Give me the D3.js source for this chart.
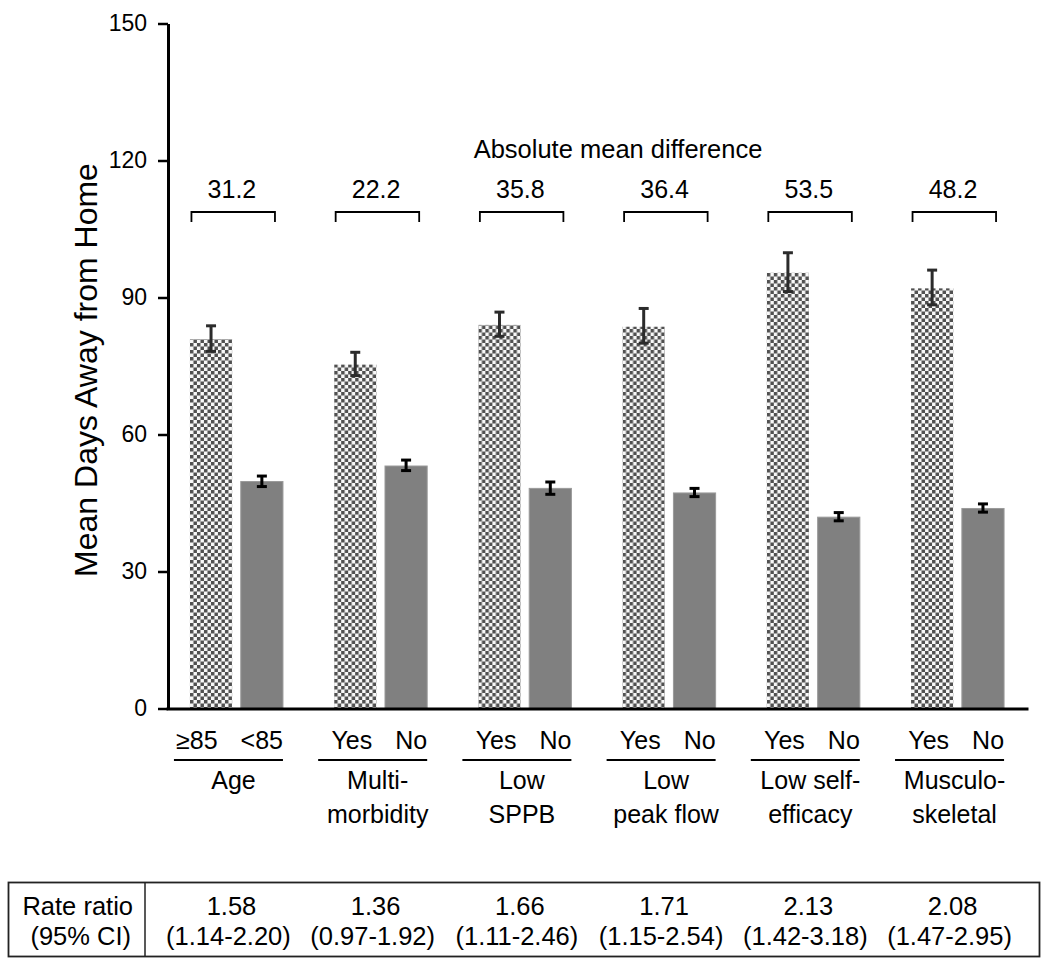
<!DOCTYPE html>
<html>
<head>
<meta charset="utf-8">
<script src="https://cdn.jsdelivr.net/npm/d3@7"></script>
<style>
  html, body { margin: 0; padding: 0; background: #fff; }
  svg { display: block; }
  text { font-family: "Liberation Sans", Arial, Helvetica, sans-serif; fill: #000; }
</style>
</head>
<body>
<svg id="chart" width="1050" height="966"></svg>
<script>
// ---- Data ----
const categories = ["Age", "Multimorbidity", "Low SPPB", "Low peak flow", "Low self-efficacy", "Musculoskeletal"];
const groupLabelLines = [["Age"], ["Multi-", "morbidity"], ["Low", "SPPB"], ["Low", "peak flow"], ["Low self-", "efficacy"], ["Musculo-", "skeletal"]];
const yesLabels = ["\u226585", "Yes", "Yes", "Yes", "Yes", "Yes"];
const noLabels = ["<85", "No", "No", "No", "No", "No"];
const yesMeans = [80.9, 75.3, 84.0, 83.6, 95.4, 92.0];
const yesLow   = [78.2, 72.9, 81.5, 80.0, 91.3, 88.4];
const yesHigh  = [83.8, 78.0, 86.8, 87.6, 99.8, 96.0];
const noMeans  = [49.7, 53.1, 48.2, 47.2, 41.9, 43.8];
const noLow    = [48.6, 52.1, 46.9, 46.4, 41.1, 43.0];
const noHigh   = [50.9, 54.4, 49.6, 48.2, 42.9, 44.8];
const diffLabels = ["31.2", "22.2", "35.8", "36.4", "53.5", "48.2"];
const rateRatio = ["1.58", "1.36", "1.66", "1.71", "2.13", "2.08"];
const rateCI = ["(1.14-2.20)", "(0.97-1.92)", "(1.11-2.46)", "(1.15-2.54)", "(1.42-3.18)", "(1.47-2.95)"];
const yTicks = [0, 30, 60, 90, 120, 150];
const yTitle = "Mean Days Away from Home";
const diffTitle = "Absolute mean difference";
const tableRowLabels = ["Rate ratio", "(95% CI)"];

// ---- Layout ----
const svg = d3.select("#chart");
const FONT = "25px";

const y = d3.scaleLinear().domain([0, 150]).range([708.5, 23.5]);
const x = d3.scaleBand().domain(categories).range([166, 1028]).paddingInner(0.355).paddingOuter(0.166);
const xSub = d3.scaleBand().domain(["yes", "no"]).range([0, x.bandwidth()]).paddingInner(0.17);

const rows = categories.map((c, i) => ({
  cat: c, i,
  bars: [
    { key: "yes", mean: yesMeans[i], lo: yesLow[i], hi: yesHigh[i] },
    { key: "no", mean: noMeans[i], lo: noLow[i], hi: noHigh[i] }
  ]
}));

// Pattern (checkerboard)
const defs = svg.append("defs");
const pat = defs.append("pattern").attr("id", "checker")
  .attr("patternUnits", "userSpaceOnUse").attr("width", 7).attr("height", 7);
pat.append("rect").attr("width", 7).attr("height", 7).attr("fill", "#f8f8f8");
pat.append("rect").attr("x", 0).attr("y", 0).attr("width", 3.5).attr("height", 3.5).attr("fill", "#505050");
pat.append("rect").attr("x", 3.5).attr("y", 3.5).attr("width", 3.5).attr("height", 3.5).attr("fill", "#505050");

// Bars
const g = svg.append("g");
const groups = g.selectAll("g.grp").data(rows).join("g")
  .attr("class", "grp")
  .attr("transform", d => `translate(${x(d.cat)},0)`);

groups.selectAll("rect.bar").data(d => d.bars).join("rect")
  .attr("class", "bar")
  .attr("x", b => xSub(b.key))
  .attr("width", xSub.bandwidth())
  .attr("y", b => y(b.mean))
  .attr("height", b => y(0) - y(b.mean))
  .attr("fill", b => b.key === "yes" ? "url(#checker)" : "#808080")
  .attr("stroke", b => b.key === "yes" ? "none" : "#9a9a9a")
  .attr("stroke-width", 1);

// Error bars
const capW = 10;
groups.selectAll("g.err").data(d => d.bars).join("g")
  .attr("class", "err")
  .each(function (b) {
    const cx = xSub(b.key) + xSub.bandwidth() / 2;
    const col = b.key === "yes" ? "#2b2b2b" : "#000";
    const e = d3.select(this);
    e.append("line").attr("x1", cx).attr("x2", cx).attr("y1", y(b.hi)).attr("y2", y(b.lo))
      .attr("stroke", col).attr("stroke-width", 3);
    [b.hi, b.lo].forEach(v => {
      e.append("line").attr("x1", cx - capW / 2).attr("x2", cx + capW / 2)
        .attr("y1", y(v)).attr("y2", y(v)).attr("stroke", col).attr("stroke-width", 3);
    });
  });

// Y axis
const yAxis = d3.axisLeft(y).tickValues(yTicks).tickSize(10).tickSizeOuter(0).tickPadding(11);
const ya = svg.append("g").attr("transform", "translate(168,0)").call(yAxis);
ya.attr("font-size", null).attr("font-family", null);
ya.select(".domain").attr("stroke", "#000").attr("stroke-width", 3);
ya.selectAll(".tick line").attr("stroke", "#000").attr("stroke-width", 2.5);
ya.selectAll(".tick text").style("font-size", "23px").attr("fill", "#000");

// X axis line
const xAxis = d3.axisBottom(x).tickSize(0).tickFormat("").tickSizeOuter(0);
const xa = svg.append("g").attr("transform", `translate(0,${y(0)})`).call(xAxis);
xa.select(".domain").attr("stroke", "#000").attr("stroke-width", 3);

// Y title
svg.append("text")
  .attr("transform", `translate(97,${(y(0) + y(150)) / 2 + 4}) rotate(-90)`)
  .attr("text-anchor", "middle")
  .style("font-size", "32px")
  .text(yTitle);

// Absolute mean difference title
svg.append("text")
  .attr("x", (x.range()[0] + x.range()[1]) / 2 + 21)
  .attr("y", 158)
  .attr("text-anchor", "middle")
  .style("font-size", "25.5px")
  .text(diffTitle);

// Brackets + difference labels
groups.append("path")
  .attr("d", () => {
    const x0 = 1.5, x1 = x.bandwidth() - 8, top = 212, bot = 222;
    return `M${x0},${bot}V${top}H${x1}V${bot}`;
  })
  .attr("fill", "none").attr("stroke", "#000").attr("stroke-width", 1.8);

groups.append("text")
  .attr("x", 42)
  .attr("y", 198)
  .attr("text-anchor", "middle")
  .style("font-size", FONT)
  .text(d => diffLabels[d.i]);

// Sub labels (yes / no)
groups.append("text")
  .attr("class", "nolab")
  .attr("x", x.bandwidth())
  .attr("y", 749)
  .attr("text-anchor", "end")
  .style("font-size", FONT)
  .text(d => noLabels[d.i]);
groups.append("text")
  .attr("class", "yeslab")
  .attr("y", 749)
  .attr("text-anchor", "end")
  .style("font-size", FONT)
  .text(d => yesLabels[d.i]);
groups.each(function () {
  const gg = d3.select(this);
  const noW = gg.select("text.nolab").node().getComputedTextLength();
  gg.select("text.yeslab").attr("x", x.bandwidth() - noW - 23);
});

// Underlines
groups.append("line")
  .attr("x1", -16).attr("x2", x.bandwidth())
  .attr("y1", 760).attr("y2", 760)
  .attr("stroke", "#000").attr("stroke-width", 1.8);

// Group labels
groups.append("text")
  .attr("text-anchor", "middle")
  .style("font-size", FONT)
  .each(function (d) {
    const t = d3.select(this);
    groupLabelLines[d.i].forEach((ln, k) => {
      t.append("tspan").attr("x", x.bandwidth() / 2 - 3).attr("y", 789 + k * 34).text(ln);
    });
  });

// Table
const tbl = svg.append("g");
tbl.append("rect").attr("x", 8.5).attr("y", 882.5).attr("width", 1031).attr("height", 74)
  .attr("fill", "none").attr("stroke", "#222").attr("stroke-width", 1.8);
tbl.append("line").attr("x1", 145).attr("x2", 145).attr("y1", 882.5).attr("y2", 956.5)
  .attr("stroke", "#222").attr("stroke-width", 1.5);
tbl.append("text").attr("x", 133).attr("y", 915).attr("text-anchor", "end").style("font-size", "25.5px").text(tableRowLabels[0]);
tbl.append("text").attr("x", 131).attr("y", 945).attr("text-anchor", "end").style("font-size", "25.5px").text(tableRowLabels[1]);
tbl.selectAll("text.rr").data(rows).join("text").attr("class", "rr")
  .attr("x", d => x(d.cat) + x.bandwidth() / 2 - 5)
  .attr("y", 915).attr("text-anchor", "middle").style("font-size", "25.5px")
  .text(d => rateRatio[d.i]);
tbl.selectAll("text.ci").data(rows).join("text").attr("class", "ci")
  .attr("x", d => x(d.cat) + x.bandwidth() / 2 - 8)
  .attr("y", 945).attr("text-anchor", "middle").style("font-size", "25.5px")
  .text(d => rateCI[d.i]);
</script>
</body>
</html>
